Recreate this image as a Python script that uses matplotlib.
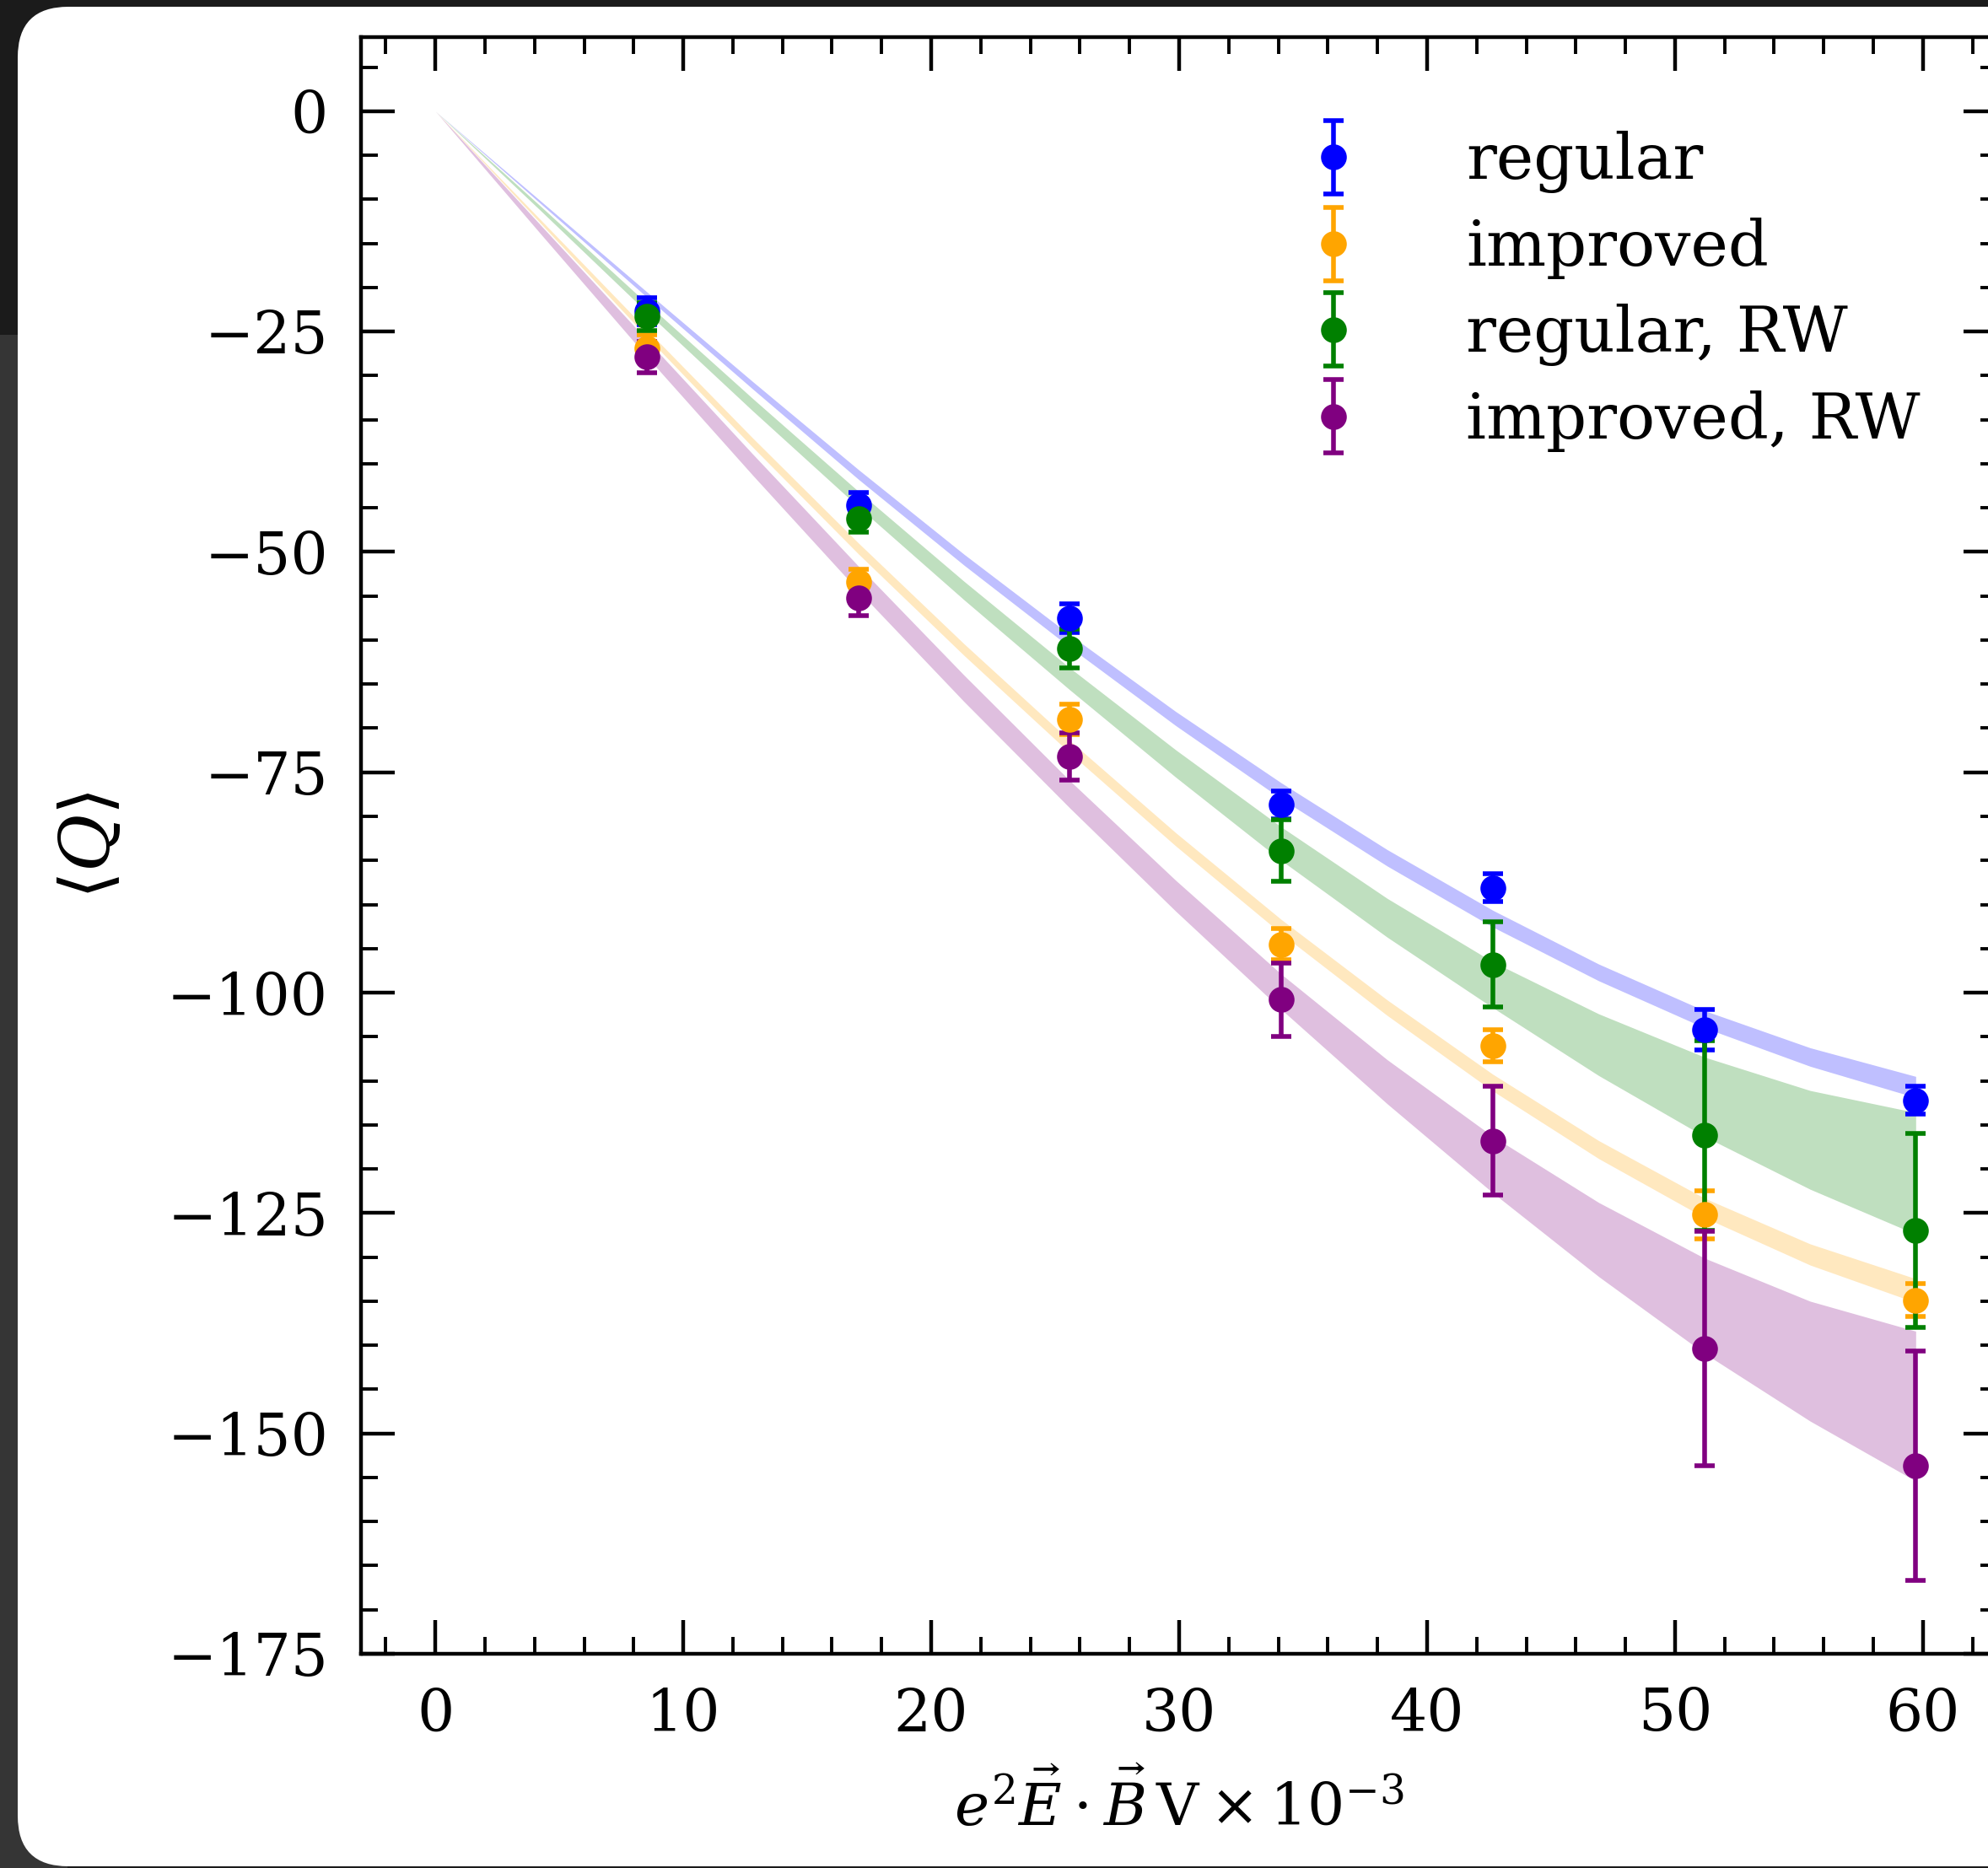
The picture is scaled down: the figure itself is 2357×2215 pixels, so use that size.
import numpy as np
import matplotlib
matplotlib.use("Agg")
import matplotlib.pyplot as plt
from matplotlib.patches import FancyBboxPatch, Rectangle
from matplotlib.transforms import IdentityTransform
from matplotlib.ticker import MultipleLocator
from matplotlib.legend_handler import HandlerErrorbar
from matplotlib.container import ErrorbarContainer

plt.rcParams['font.family'] = ['DejaVu Serif']
plt.rcParams['mathtext.fontset'] = 'dejavuserif'

W, H = 2357, 2215

# field strength e^2 E.B V (x 10^-3)
ebv = [8.53, 17.06, 25.59, 34.12, 42.65, 51.18, 59.71]

# <Q> measurements and errors
q_regular = [-22.7, -44.7, -57.5, -78.7, -88.1, -104.2, -112.2]
err_regular = [1.55, 1.4, 1.6, 1.6, 1.55, 2.3, 1.6]
q_improved = [-26.9, -53.4, -69.0, -94.5, -106.0, -125.2, -134.9]
err_improved = [1.5, 1.4, 1.75, 1.75, 1.8, 2.7, 1.87]
q_regular_rw = [-23.3, -46.2, -61.0, -83.9, -96.8, -116.2, -127.0]
err_regular_rw = [1.6, 1.6, 2.2, 3.5, 4.85, 10.8, 11.0]
q_improved_rw = [-27.9, -55.2, -73.2, -100.8, -116.8, -140.4, -153.7]
err_improved_rw = [1.75, 2.0, 2.65, 4.2, 6.2, 13.3, 13.0]

# fit bands (centre and half width) read at these x
fit_x = [0, 4.27, 8.53, 12.8, 17.06, 21.33, 25.59, 29.86, 34.12, 38.39,
         42.65, 46.92, 51.18, 55.45, 59.71]
band_regular = [0, -10.4, -20.8, -31.1, -41.2, -50.9, -60.1, -68.9, -77.1,
                -84.7, -91.6, -97.7, -103.0, -107.3, -110.7]
band_regular_hw = [0, .15, .3, .42, .55, .62, .7, .8, .9, .93, .95, .95,
                   .97, 1.05, 1.2]
band_improved = [0, -12.6, -25.2, -37.6, -49.6, -61.1, -72.1, -82.6, -92.5,
                 -101.7, -110.2, -117.8, -124.4, -129.7, -133.8]
band_improved_hw = [0, .2, .4, .52, .62, .66, .7, .75, .8, .88, .95, 1.02,
                    1.1, 1.2, 1.35]
band_regular_rw = [0, -11.1, -22.3, -33.3, -44.0, -54.4, -64.4, -74.0, -83.1,
                   -91.5, -99.1, -105.9, -111.8, -116.7, -120.5]
band_regular_rw_hw = [0, .25, .5, .7, .88, 1.05, 1.25, 1.55, 1.9, 2.2, 2.6,
                      3.5, 4.5, 5.6, 6.9]
band_improved_rw = [0, -13.5, -26.9, -40.1, -53.0, -65.5, -77.5, -89.0,
                    -99.9, -110.1, -119.5, -128.0, -135.5, -141.8, -146.9]
band_improved_rw_hw = [0, .5, .95, 1.2, 1.4, 1.5, 1.55, 1.75, 2.0, 2.5, 3.2,
                       4.2, 5.4, 6.8, 8.5]

labels = ["regular", "improved", "regular, RW", "improved, RW"]
colors = ["blue", "orange", "green", "purple"]
points = [(q_regular, err_regular), (q_improved, err_improved),
          (q_regular_rw, err_regular_rw), (q_improved_rw, err_improved_rw)]
bands = [(band_regular, band_regular_hw), (band_improved, band_improved_hw),
         (band_regular_rw, band_regular_rw_hw),
         (band_improved_rw, band_improved_rw_hw)]

fig = plt.figure(figsize=(W / 200, H / 200), dpi=200)
fig.patch.set_facecolor('#1b1b1b')

# screenshot frame: lighter strip on the left, white rounded card
fig.add_artist(Rectangle((0, 0), 80, H - 397, facecolor='#353535',
                         edgecolor='none', transform=IdentityTransform(),
                         zorder=-10))
fig.add_artist(FancyBboxPatch((21, 2), 2600, H - 10,
                              boxstyle="round,pad=0,rounding_size=60",
                              facecolor='white', edgecolor='none',
                              transform=IdentityTransform(), zorder=-5))

ax = fig.add_axes([428 / W, (H - 1961) / H, 1940 / W, 1917 / H])

for (mid, hw), c in zip(bands, colors):
    mid = np.array(mid)
    hw = np.array(hw)
    ax.fill_between(fit_x, mid - hw, mid + hw, color=c, alpha=0.25, lw=0)

for (q, err), c, lab in zip(points, colors, labels):
    ax.errorbar(ebv, q, yerr=err, fmt='o', color=c, ms=10, elinewidth=2.0,
                capsize=4.2, capthick=2.0, label=lab)

ax.set_xlim(-3, 63)
ax.set_ylim(-175, 8.4)
ax.xaxis.set_major_locator(MultipleLocator(10))
ax.xaxis.set_minor_locator(MultipleLocator(2))
ax.yaxis.set_major_locator(MultipleLocator(25))
ax.yaxis.set_minor_locator(MultipleLocator(5))

ax.tick_params(which='both', direction='in', top=True, right=True,
               labelsize=25, pad=14)
ax.tick_params(which='major', length=14.4, width=1.6)
ax.tick_params(which='minor', length=7.2, width=1.4)
for sp in ax.spines.values():
    sp.set_linewidth(1.6)

ax.set_xlabel(r"$e^2\vec{E}\cdot\vec{B}\,\mathrm{V}\times10^{-3}$",
              fontsize=25, labelpad=12)
ax.set_ylabel(r"$\langle Q\rangle$", fontsize=30, labelpad=18)

ax.legend(loc='upper left', bbox_to_anchor=(0.540, 0.9575), frameon=False,
          fontsize=27, handletextpad=1.1, labelspacing=0.385,
          borderaxespad=0,
          handler_map={ErrorbarContainer: HandlerErrorbar(yerr_size=0.58)})

fig.savefig("out.png", dpi=200, facecolor=fig.get_facecolor())
